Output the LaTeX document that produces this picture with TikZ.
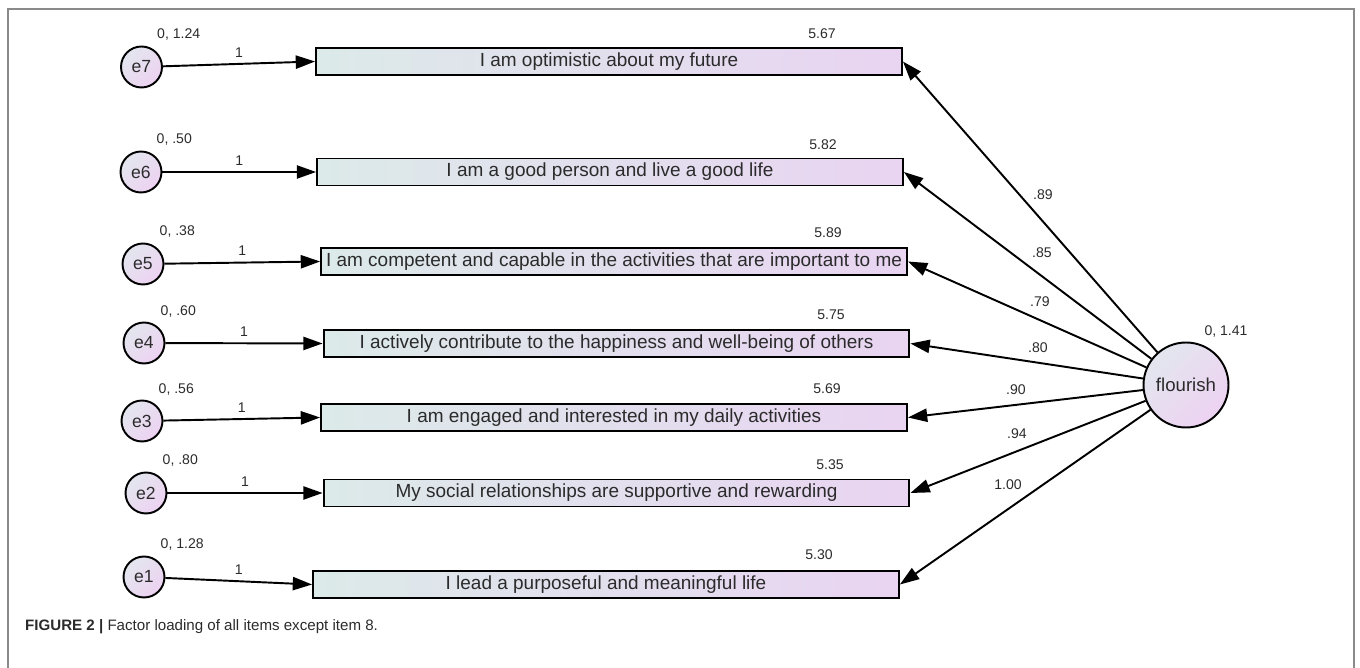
\documentclass[tikz,border=0pt]{standalone}
\usepackage{fontspec}
\setmainfont{Liberation Sans}
\usetikzlibrary{arrows.meta}

\definecolor{boxleft}{HTML}{DCEAE9}
\definecolor{boxright}{HTML}{E9D4F2}
\definecolor{circtop}{HTML}{E3E6EE}
\definecolor{circbot}{HTML}{EDD2F2}
\definecolor{framegray}{HTML}{8A8A8A}
\definecolor{ink}{HTML}{2B2B2B}

\tikzset{
  item/.style={draw, line width=1.1pt, left color=boxleft, right color=boxright,
    minimum width=11.72cm, minimum height=0.54cm, inner sep=0pt,
    font=\fontsize{10.8}{12}\selectfont, text=ink},
  errc/.style={circle, draw, line width=1.1pt, top color=circtop, bottom color=circbot,
    shading angle=45, minimum size=0.82cm, inner sep=0pt,
    font=\fontsize{10}{12}\selectfont, text=ink},
  val/.style={font=\fontsize{8}{10}\selectfont, text=ink},
  arr/.style={-{Triangle[length=11pt,width=7.5pt]}, line width=1.1pt}
}

\begin{document}
\begin{tikzpicture}[x=0.02cm, y=-0.02cm]

  \useasboundingbox (0,0) rectangle (1360,668);

  % Draw the frame
  \draw[framegray, line width=1.1pt] (8,668) -- (8,9) -- (1354,9) -- (1354,668);

  % The items
  \node[item] (i7) at (609,61.5) {I am optimistic about my future};
  \node[item] (i6) at (610,172) {I am a good person and live a good life};
  \node[item] (i5) at (614,261.5) {I am competent and capable in the activities that are important to me};
  \node[item] (i4) at (616.5,343.5) {I actively contribute to the happiness and well-being of others};
  \node[item] (i3) at (614,417.5) {I am engaged and interested in my daily activities};
  \node[item] (i2) at (616.5,493) {My social relationships are supportive and rewarding};
  \node[item] (i1) at (606,584.5) {I lead a purposeful and meaningful life};

  % Intercepts above the items
  \node[val] (m7) at (822,34) {5.67};
  \node[val] (m6) at (823,145) {5.82};
  \node[val] (m5) at (828,233) {5.89};
  \node[val] (m4) at (831,315) {5.75};
  \node[val] (m3) at (827,389) {5.69};
  \node[val] (m2) at (830,465) {5.35};
  \node[val] (m1) at (819,555) {5.30};

  % The error terms
  \node[errc] (e7) at (141.5,67) {e7};
  \node[errc] (e6) at (141,172) {e6};
  \node[errc] (e5) at (143,264) {e5};
  \node[errc] (e4) at (144,343) {e4};
  \node[errc] (e3) at (142,421) {e3};
  \node[errc] (e2) at (146,493) {e2};
  \node[errc] (e1) at (144,577) {e1};

  \node[val, anchor=west] (v7) at (151,34) {0, 1.24};
  \node[val, anchor=west] (v6) at (150.5,139) {0, .50};
  \node[val, anchor=west] (v5) at (153.5,231) {0, .38};
  \node[val, anchor=west] (v4) at (154.5,311) {0, .60};
  \node[val, anchor=west] (v3) at (152.5,389) {0, .56};
  \node[val, anchor=west] (v2) at (156.5,460) {0, .80};
  \node[val, anchor=west] (v1) at (154.5,544) {0, 1.28};

  % Draw the arrows from the errors
  \draw[arr] (e7) -- node[val, above] (w7) {1} (i7.west);
  \draw[arr] (e6) -- node[val, above] (w6) {1} (i6.west);
  \draw[arr] (e5) -- node[val, above] (w5) {1} (i5.west);
  \draw[arr] (e4) -- node[val, above] (w4) {1} (i4.west);
  \draw[arr] (e3) -- node[val, above] (w3) {1} (i3.west);
  \draw[arr] (e2) -- node[val, above] (w2) {1} (i2.west);
  \draw[arr] (e1) -- node[val, above] (w1) {1} (i1.west);

  % The factor
  \node[errc, minimum size=1.70cm, font=\fontsize{10.6}{12}\selectfont] (fl) at (1186,385) {flourish};
  \node[val] (vf) at (1226,331) {0, 1.41};

  % Draw the loadings
  \draw[arr] (fl) -- (i7.east);
  \draw[arr] (fl) -- (i6.east);
  \draw[arr] (fl) -- (i5.east);
  \draw[arr] (fl) -- (i4.east);
  \draw[arr] (fl) -- (i3.east);
  \draw[arr] (fl) -- (i2.east);
  \draw[arr] (fl) -- (i1.east);

  \node[val] (l7) at (1043,195) {.89};
  \node[val] (l6) at (1042,253) {.85};
  \node[val] (l5) at (1040,302) {.79};
  \node[val] (l4) at (1038,348) {.80};
  \node[val] (l3) at (1016,390) {.90};
  \node[val] (l2) at (1017,434) {.94};
  \node[val] (l1) at (1008,485) {1.00};

  % Caption
  \node[anchor=west, font=\fontsize{8.6}{10}\selectfont, text=ink] (cap) at (19,627)
    {\textbf{FIGURE 2 |} Factor loading of all items except item 8.};

\end{tikzpicture}
\end{document}
